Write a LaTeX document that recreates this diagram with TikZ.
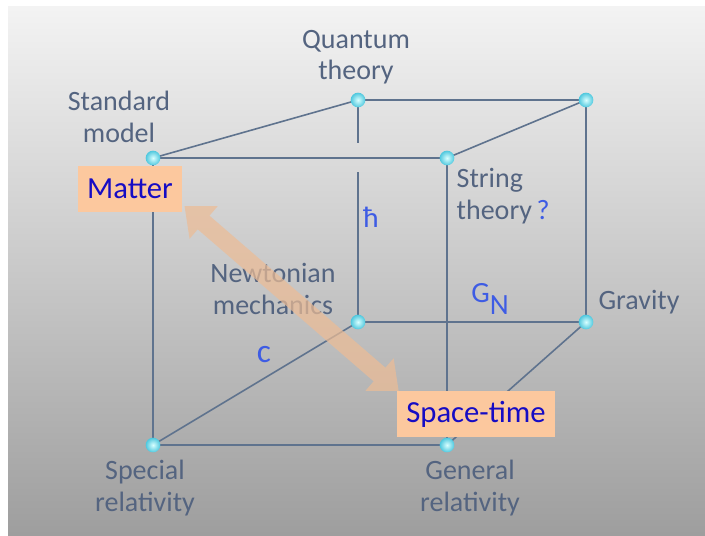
\documentclass[tikz,border=0pt]{standalone}
\usepackage{fontspec}
\setmainfont{Carlito}
\usetikzlibrary{arrows.meta}
\definecolor{edgecol}{RGB}{95,115,142}
\definecolor{labelcol}{RGB}{84,100,128}
\definecolor{constcol}{RGB}{62,92,228}
\definecolor{boxtext}{RGB}{22,12,196}
\definecolor{peach}{RGB}{252,200,158}
\definecolor{arrowcol}{RGB}{236,188,150}
\definecolor{dotcol}{RGB}{80,200,222}
\tikzset{
  edge/.style={edgecol, line width=1.2pt},
  frontedge/.style={edgecol, line width=1.7pt},
  vertex/.style={circle, inner sep=0pt, minimum size=11pt, shade,
    inner color=white!85!cyan, outer color=dotcol},
  theory/.style={text=labelcol, align=center, font=\fontsize{21}{23.5}\selectfont},
  const/.style={text=constcol, font=\fontsize{22}{24}\selectfont},
  physbox/.style={fill=peach, text=boxtext, minimum height=34pt, inner xsep=7pt,
    font=\fontsize{23}{25}\selectfont}
}
\begin{document}
\begin{tikzpicture}[x=0.75pt, y=-0.75pt]
    % Page and background
    \useasboundingbox (0,0) rectangle (705,535);
    \fill[white] (0,0) rectangle (705,535);
    \shade[top color={rgb,255:red,243;green,243;blue,243}, bottom color={rgb,255:red,158;green,158;blue,158}]
        (8,7) rectangle (705,535);

    % Corners of the cube
    \coordinate (sm) at (153,158);
    \coordinate (st) at (447,158);
    \coordinate (qt) at (358,100);
    \coordinate (bk) at (586,100);
    \coordinate (nm) at (358,322);
    \coordinate (gr) at (586,322);
    \coordinate (sr) at (153,445);
    \coordinate (gen) at (447,445);
    \coordinate (gaptop) at (358,143);
    \coordinate (gapbot) at (358,172);

    % Back face
    \draw[edge] (qt) -- (bk) -- (gr) -- (nm);
    \draw[edge] (qt) -- (gaptop);
    \draw[edge] (gapbot) -- (nm);

    % Connecting edges
    \draw[edge] (sm) -- (qt);
    \draw[edge] (st) -- (bk);
    \draw[edge] (sr) -- (nm);
    \draw[edge] (gen) -- (gr);

    % Front face
    \draw[frontedge] (sm) -- (st);
    \draw[frontedge] (sr) -- (gen);
    \draw[edge] (sm) -- (sr);
    \draw[edge] (st) -- (gen);

    % Theory labels
    \node[theory] (lqt) at (356,57) {Quantum\\theory};
    \node[theory] (lsm) at (119,117) {Standard\\model};
    \node[theory, anchor=west, align=left] (lst) at (452,196)
        {String\\theory\,\textcolor{constcol}{?}};
    \node[theory] (lnm) at (273,289) {Newtonian\\mechanics};
    \node[theory] (lgr) at (639,302) {Gravity};
    \node[theory] (lsr) at (145,488) {Special\\relativity};
    \node[theory] (lgen) at (470,488) {General\\relativity};

    % Constants on the edges
    \node[const] (hbar) at (371,217) {ħ};
    \node[const] (gn) at (490,299) {G\raisebox{-0.42em}{N}};
    \node[const, font=\fontsize{25}{27}\selectfont] (cc) at (264,355) {c};

    % Matter and space-time
    \node[physbox] (matter) at (130,189) {Matter};
    \node[physbox] (spacetime) at (476,414) {Space-time};

    % Corner dots
    \foreach \p in {sm,st,qt,bk,nm,gr,sr,gen}
        \node[vertex] at (\p) {};

    % Link between matter and space-time
    \begin{scope}[transparency group, opacity=0.72]
        \draw[arrowcol, line width=13.5pt,
              {Triangle[width=31pt,length=19pt]}-{Triangle[width=31pt,length=19pt]}]
            ([shift={(2,-6)}]matter.south east) -- ([shift={(2,0)}]spacetime.north west);
    \end{scope}
\end{tikzpicture}
\end{document}
